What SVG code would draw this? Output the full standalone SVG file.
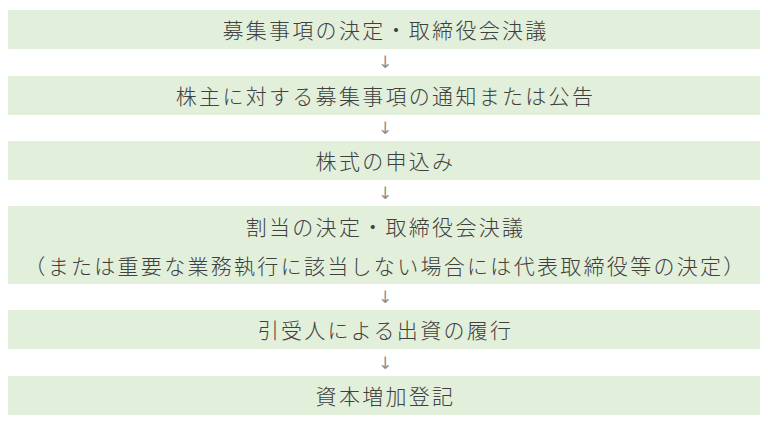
<svg xmlns="http://www.w3.org/2000/svg" width="768" height="432" viewBox="0 0 768 432">
<style>
.box{fill:#e2efda;}
.t{font-family:"Noto Sans CJK JP","Noto Sans CJK SC",sans-serif;font-size:21px;font-weight:300;fill:#404040;text-anchor:middle;letter-spacing:2.3px;}
.a{font-family:"DejaVu Sans",sans-serif;font-size:17px;fill:#8f8f8f;text-anchor:middle;}
</style>
<rect x="0" y="0" width="768" height="432" fill="#ffffff"/>
<g id="n1"><rect class="box" x="8" y="10" width="752" height="39"/><text class="t" x="385.5" y="38">募集事項の決定・取締役会決議</text></g>
<g id="n2"><rect class="box" x="8" y="76" width="752" height="39"/><text class="t" x="385.5" y="104">株主に対する募集事項の通知または公告</text></g>
<g id="n3"><rect class="box" x="8" y="141" width="752" height="39"/><text class="t" x="385.5" y="169">株式の申込み</text></g>
<g id="n4"><rect class="box" x="8" y="206" width="752" height="78"/><text class="t" x="385.5" y="235">割当の決定・取締役会決議</text><text class="t" x="385.5" y="274">（または重要な業務執行に該当しない場合には代表取締役等の決定）</text></g>
<g id="n5"><rect class="box" x="8" y="310" width="752" height="39"/><text class="t" x="385.5" y="338">引受人による出資の履行</text></g>
<g id="n6"><rect class="box" x="8" y="376" width="752" height="39"/><text class="t" x="385.5" y="404">資本増加登記</text></g>
<g id="connectors">
<text class="a" x="385" y="68">↓</text>
<text class="a" x="385" y="134">↓</text>
<text class="a" x="385" y="199">↓</text>
<text class="a" x="385" y="303">↓</text>
<text class="a" x="385" y="369">↓</text>
</g>
</svg>
